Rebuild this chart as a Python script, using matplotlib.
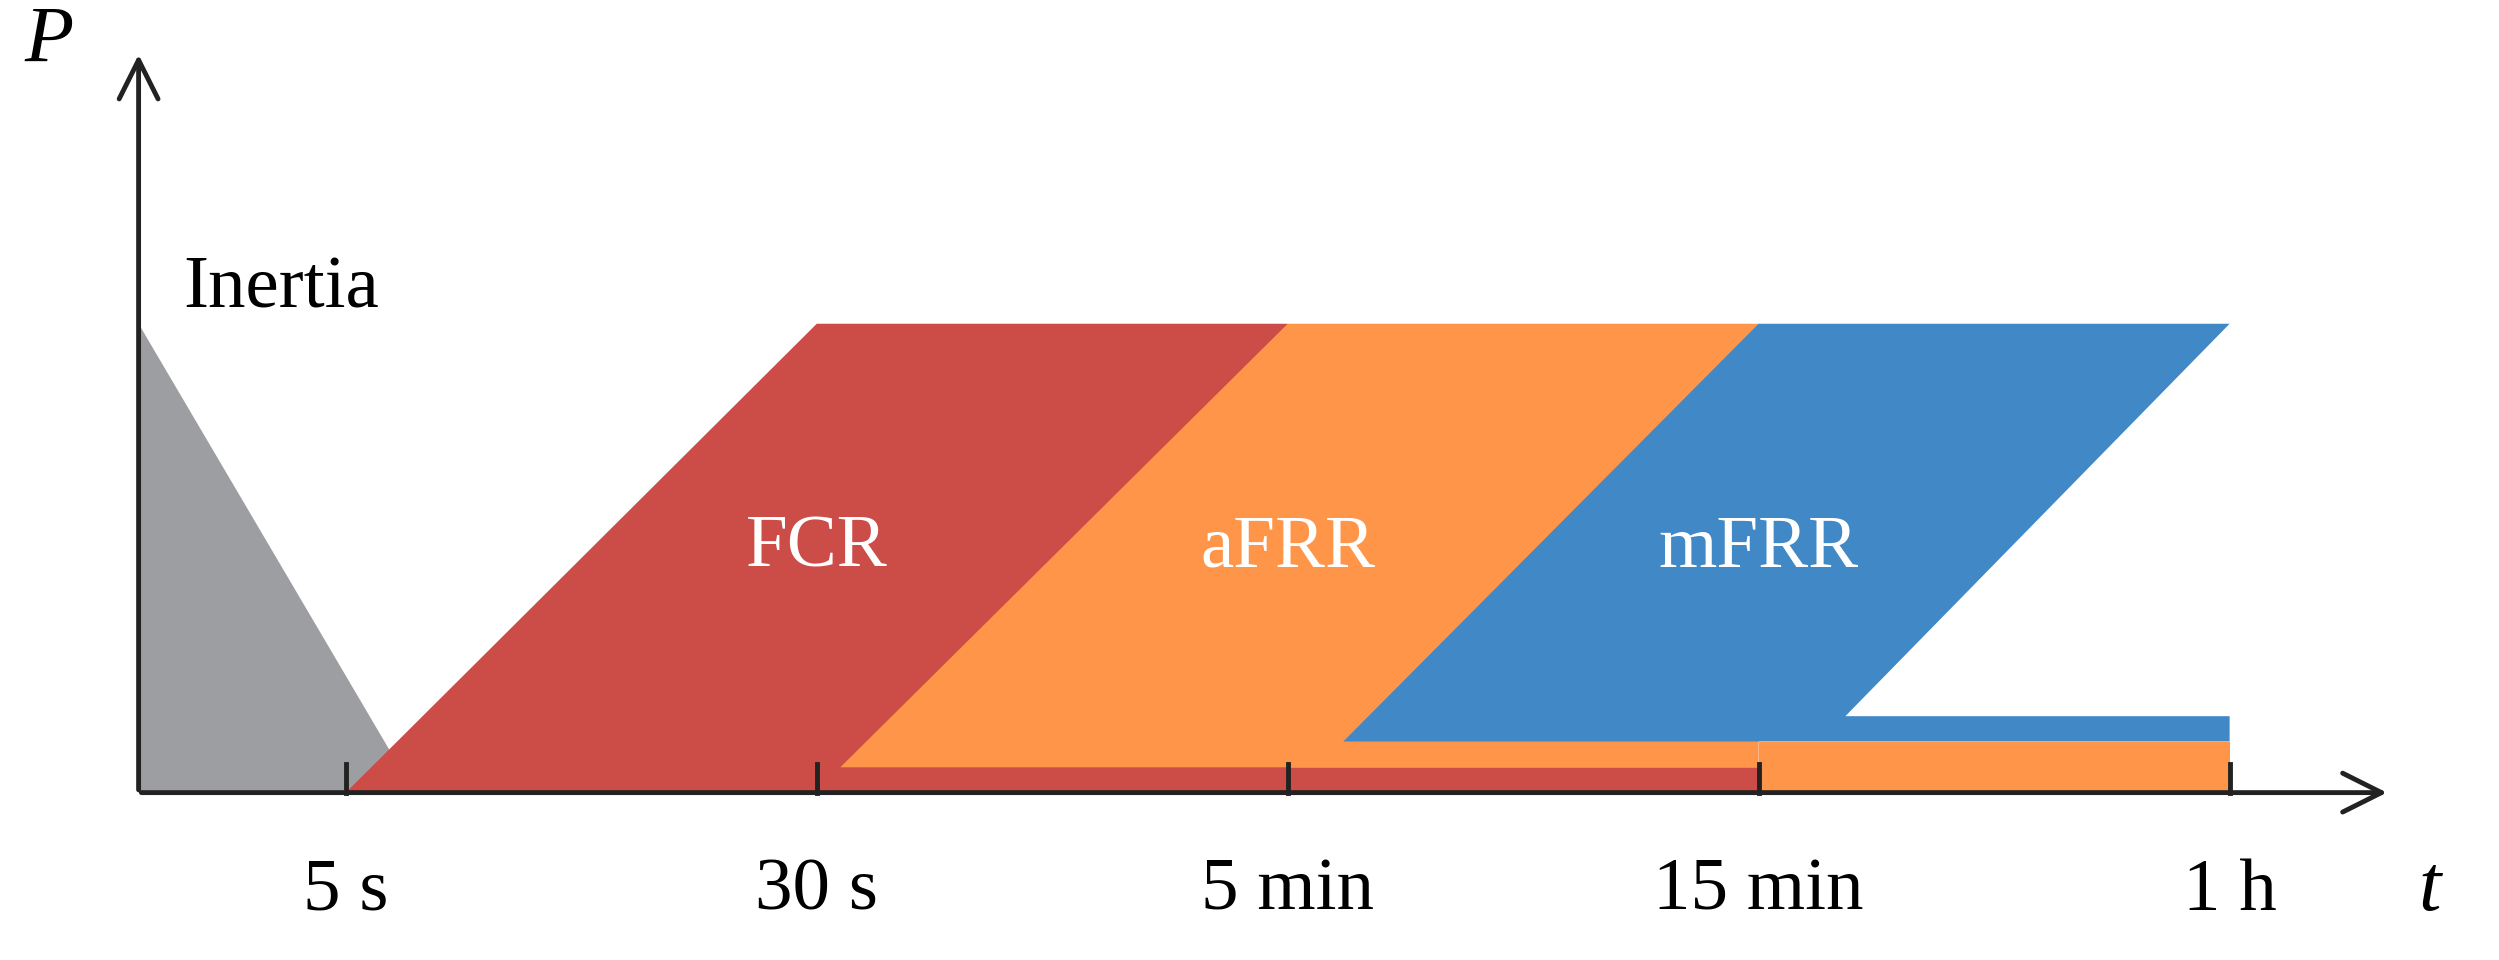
import matplotlib
matplotlib.use("Agg")
import matplotlib.pyplot as plt
from matplotlib.patches import Polygon, FancyArrowPatch

tick_labels = ["5 s", "30 s", "5 min", "15 min", "1 h"]
tick_pos = [1, 2, 3, 4, 5]
products = ["FCR", "aFRR", "mFRR"]
colors = {"Inertia": "#9d9ea2", "FCR": "#cc4c48", "aFRR": "#ff9549", "mFRR": "#4088c6"}
h1, h2, h3 = 0.054, 0.109, 0.163
x0 = 0.56

fig = plt.figure(figsize=(24.99, 9.6), dpi=100)
ax = fig.add_axes([0, 0, 1, 1])
ax.set_xlim(0.2657, 5.572)
ax.set_ylim(-0.357, 1.6905)
ax.axis("off")
serif = "Liberation Serif"

def poly(pts, c):
    ax.add_patch(Polygon(pts, closed=True, fc=c, ec="none"))

poly([(x0, 0), (x0, 1), (1.146, 0)], colors["Inertia"])
poly([(1, 0), (2, 1), (3, 1), (3, h1), (4, h1), (4, 0)], colors["FCR"])
poly([(2.05, h1), (3, 1), (4, 1), (4, h1)], colors["aFRR"])
poly([(4, 0), (5, 0), (5, h2), (4, h2)], colors["aFRR"])
poly([(3.118, h2), (4, 1), (5, 1), (4.184, h3), (5, h3), (5, h2)], colors["mFRR"])

for end in [(5.34, 0), (x0, 1.58)]:
    ax.add_patch(FancyArrowPatch((x0, 0), end, arrowstyle="->,head_length=28,head_width=14",
                                 mutation_scale=1, lw=3.5, color="#222"))
for p, l in zip(tick_pos, tick_labels):
    ax.plot([p, p], [0, 0.06], color="#222", lw=3.5)
    ax.text(p, -0.14, l, ha="center", va="top", fontsize=54, family=serif)
ax.text(0.37, 1.60, "P", fontsize=58, family=serif, style="italic", ha="center", va="center")
ax.text(5.4, -0.13, "t", fontsize=58, family=serif, style="italic", ha="left", va="top")
ax.text(0.655, 1.0, "Inertia", fontsize=54, family=serif, ha="left", va="bottom")
for p, n in zip([2, 3, 4], products):
    ax.text(p, 0.52, n, fontsize=54, family=serif, color="white", ha="center", va="center")
fig.savefig("out.png", dpi=100)
